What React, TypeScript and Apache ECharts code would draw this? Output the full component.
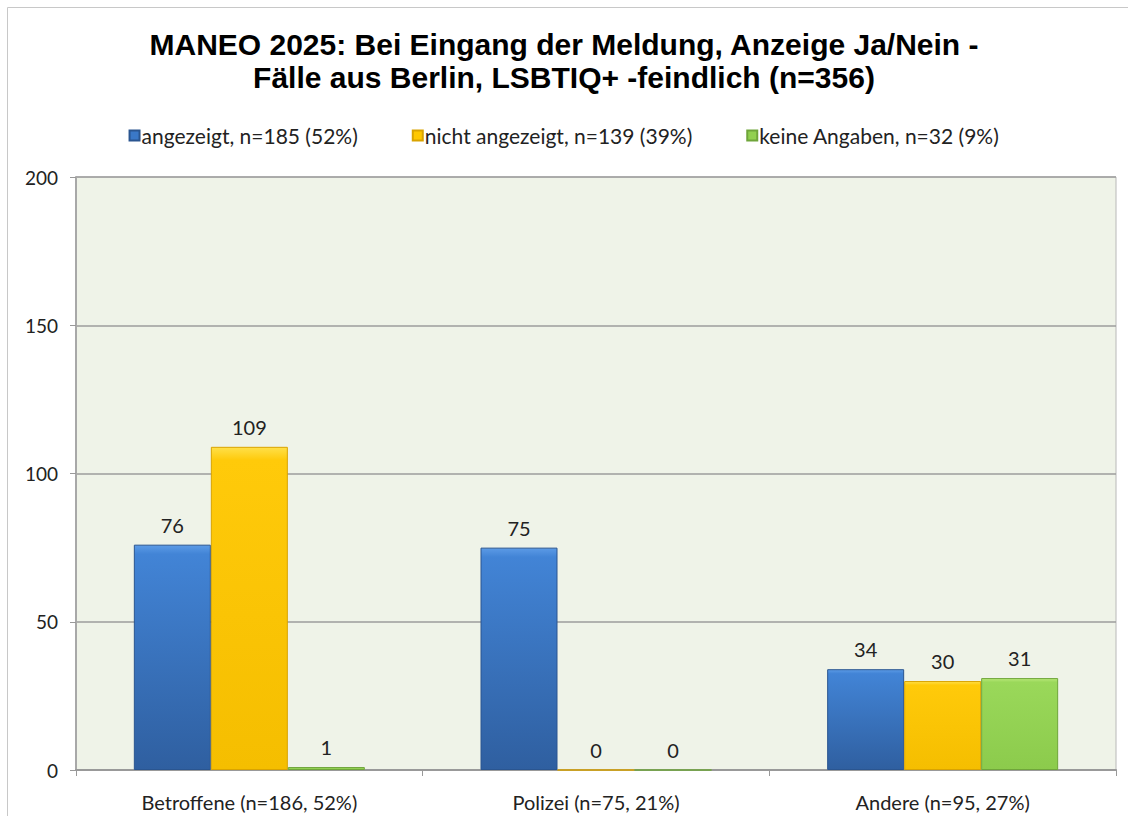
import React, { useEffect, useRef } from "react";
import * as echarts from "echarts";

const categories = ["Betroffene (n=186, 52%)", "Polizei (n=75, 21%)", "Andere (n=95, 27%)"];
const seriesNames = ["angezeigt, n=185 (52%)", "nicht angezeigt, n=139 (39%)", "keine Angaben, n=32 (9%)"];
const angezeigt = [76, 75, 34];
const nichtAngezeigt = [109, 0, 30];
const keineAngaben = [1, 0, 31];
const titleLines = ["MANEO 2025: Bei Eingang der Meldung, Anzeige Ja/Nein -", "Fälle aus Berlin, LSBTIQ+ -feindlich (n=356)"];

const vgrad = (top: string, mid: string, bottom: string) =>
  new echarts.graphic.LinearGradient(0, 0, 0, 1, [
    { offset: 0, color: top },
    { offset: 0.04, color: mid },
    { offset: 1, color: bottom },
  ]);

export default function App() {
  const ref = useRef<HTMLDivElement>(null);
  useEffect(() => {
    document.body.style.margin = "0";
    const chart = echarts.init(ref.current!, undefined, { renderer: "svg" });
    const font = "Lato, 'Open Sans', sans-serif";
    const labelStyle = {
      show: true,
      position: "top" as const,
      distance: 10,
      color: "#222",
      fontSize: 20,
      fontFamily: font,
    };
    const mk = (name: string, data: number[], color: any, border: string) => ({
      name,
      type: "bar" as const,
      data,
      barWidth: 77,
      barGap: "0%",
      itemStyle: { color, borderColor: border, borderWidth: 1 },
      label: labelStyle,
    });
    chart.setOption({
      animation: false,
      backgroundColor: "#ffffff",
      title: {
        text: titleLines.join("\n"),
        left: "center",
        top: 23,
        textStyle: {
          fontFamily: "'Liberation Sans', Arial, sans-serif",
          fontWeight: "bold",
          fontSize: 30,
          lineHeight: 33,
          color: "#000",
        },
      },
      legend: {
        top: 120,
        left: "center",
        itemWidth: 10,
        itemHeight: 10,
        itemGap: 54,
        icon: "rect",
        textStyle: { fontFamily: font, fontSize: 21, color: "#222", padding: [0, 0, 0, -3] },
        data: [
          { name: seriesNames[0], itemStyle: { color: "#3A78C8" } },
          { name: seriesNames[1], itemStyle: { color: "#FFC800" } },
          { name: seriesNames[2], itemStyle: { color: "#92D050" } },
        ],
      },
      grid: {
        left: 76,
        right: 12,
        top: 177,
        bottom: 46,
        show: true,
        backgroundColor: "#EFF3E8",
        borderColor: "#B8B8B8",
        borderWidth: 1,
      },
      xAxis: {
        type: "category",
        data: categories,
        axisLine: { show: true, lineStyle: { color: "#999", width: 2 } },
        axisTick: { show: true, length: 6, lineStyle: { color: "#999" } },
        axisLabel: { fontFamily: font, fontSize: 20, color: "#222", margin: 22 },
      },
      yAxis: {
        type: "value",
        min: 0,
        max: 200,
        interval: 50,
        axisLine: { show: true, lineStyle: { color: "#A8A8A8", width: 2 } },
        axisTick: { show: true, length: 6, lineStyle: { color: "#999" } },
        axisLabel: { fontFamily: font, fontSize: 19, color: "#222", margin: 18 },
        splitLine: { show: true, lineStyle: { color: "#9C9C9C", width: 1.5 } },
      },
      graphic: [
        {
          type: "rect",
          shape: { x: 7.5, y: 7.5, width: 1140, height: 830 },
          style: { fill: "none", stroke: "#C8C8C8", lineWidth: 1 },
          silent: true,
          z: -10,
        },
      ],
      series: [
        mk(seriesNames[0], angezeigt, vgrad("#5C9BE6", "#4284D6", "#2F5FA0"), "#2A5590"),
        mk(seriesNames[1], nichtAngezeigt, vgrad("#FFE04A", "#FFCA0A", "#F5BE00"), "#D9A300"),
        mk(seriesNames[2], keineAngaben, vgrad("#B8E878", "#9AD85A", "#8CCB4C"), "#6FA53A"),
      ],
    });
    return () => chart.dispose();
  }, []);
  return <div ref={ref} style={{ position: "absolute", left: 0, top: 0, width: 1128, height: 816 }} />;
}
